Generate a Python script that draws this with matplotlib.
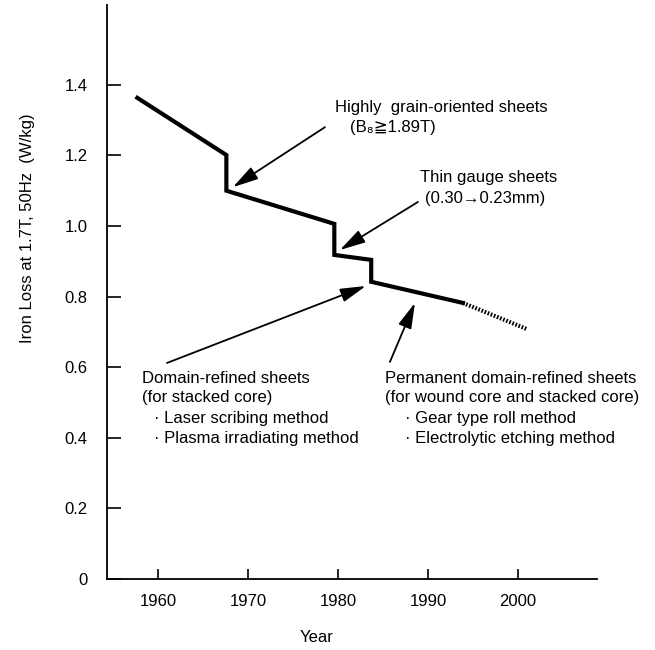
import matplotlib
matplotlib.use('Agg')
import matplotlib.pyplot as plt

plt.rcParams['font.family'] = ['Liberation Sans', 'DejaVu Sans']

# Iron loss trend (solid part)
years = [1957.7, 1967.6, 1967.6, 1979.6, 1979.6, 1983.7, 1983.7, 1993.9]
loss = [1.363, 1.201, 1.100, 1.006, 0.918, 0.904, 0.842, 0.782]

# projected part (dotted)
proj_years = [1993.9, 2001.0]
proj_loss = [0.782, 0.708]

xticks = [1960, 1970, 1980, 1990, 2000]
yticks = [0, 0.2, 0.4, 0.6, 0.8, 1.0, 1.2, 1.4]
ytick_labels = ['0', '0.2', '0.4', '0.6', '0.8', '1.0', '1.2', '1.4']

fig = plt.figure(figsize=(6.55, 6.5), dpi=100)
ax = fig.add_axes([107 / 655, 71 / 650, 490 / 655, 574 / 650])

ax.plot(years, loss, color='black', lw=3.0, solid_joinstyle='miter')
ax.plot(proj_years, proj_loss, color='black', lw=3.0, linestyle=(0, (0.4, 0.4)))

ax.set_xlim(1954.33, 2008.8)
ax.set_ylim(0, 1.626)
ax.set_xticks(xticks)
ax.set_yticks(yticks)
ax.set_yticklabels(ytick_labels)

ax.spines['top'].set_visible(False)
ax.spines['right'].set_visible(False)
ax.spines['left'].set_linewidth(1.3)
ax.spines['bottom'].set_linewidth(1.3)
ax.tick_params(axis='y', direction='in', length=10, width=1.2, pad=14, labelsize=12)
ax.tick_params(axis='x', direction='in', length=7, width=1.2, pad=11, labelsize=12)

fig.text(28 / 655, 1 - 228 / 650, 'Iron Loss at 1.7T, 50Hz  (W/kg)', rotation=90,
         ha='center', va='center', fontsize=12)
fig.text(317 / 655, 1 - 638 / 650, 'Year', ha='center', va='center', fontsize=12)

arrow = dict(arrowstyle='-|>,head_length=1.3,head_width=0.35', mutation_scale=12,
             lw=1.3, color='black', shrinkA=0, shrinkB=0)

# arrows: (head, tail)
ax.annotate('', xy=(1968.33, 1.110), xytext=(1978.56, 1.280), arrowprops=arrow)
ax.annotate('', xy=(1980.22, 0.932), xytext=(1988.89, 1.068), arrowprops=arrow)
ax.annotate('', xy=(1983.1, 0.830), xytext=(1961.0, 0.612), arrowprops=arrow)
ax.annotate('', xy=(1988.56, 0.782), xytext=(1985.78, 0.615), arrowprops=arrow)

fs = 12
ax.text(1979.67, 1.337, 'Highly  grain-oriented sheets', ha='left', va='center', fontsize=fs)
ax.text(1981.33, 1.280, '(B\u2088\u22671.89T)', ha='left', va='center', fontsize=fs)
ax.text(1989.1, 1.136, 'Thin gauge sheets', ha='left', va='center', fontsize=fs)
ax.text(1989.67, 1.079, '(0.30\u21920.23mm)', ha='left', va='center', fontsize=fs)

domain_lines = ['Domain-refined sheets', '(for stacked core)']
domain_items = ['\u00b7 Laser scribing method', '\u00b7 Plasma irradiating method']
perm_lines = ['Permanent domain-refined sheets', '(for wound core and stacked core)']
perm_items = ['\u00b7 Gear type roll method', '\u00b7 Electrolytic etching method']
line_y = [0.569, 0.513, 0.456, 0.399]

for i, s in enumerate(domain_lines):
    ax.text(1958.2, line_y[i], s, ha='left', va='center', fontsize=fs)
for i, s in enumerate(domain_items):
    ax.text(1959.5, line_y[i + 2], s, ha='left', va='center', fontsize=fs)
for i, s in enumerate(perm_lines):
    ax.text(1985.2, line_y[i], s, ha='left', va='center', fontsize=fs)
for i, s in enumerate(perm_items):
    ax.text(1987.5, line_y[i + 2], s, ha='left', va='center', fontsize=fs)

fig.savefig('out.png', dpi=100)
